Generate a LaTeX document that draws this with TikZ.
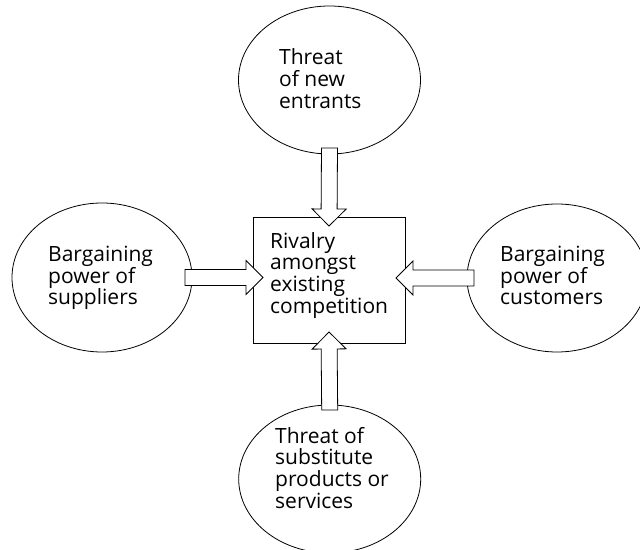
\documentclass[tikz,border=0pt]{standalone}
\usepackage{fontspec}
\setmainfont{Open Sans}
\usetikzlibrary{shapes.geometric,calc}

% hollow block arrow from #1 (shaft end) to #2 (tip)
\newcommand\blockarrow[2]{%
  \draw[blockarrow]
    ($(#1)!8pt!90:(#2)$) --
    ($($(#2)!17pt!(#1)$)!8pt!90:(#2)$) --
    ($($(#2)!17pt!(#1)$)!17pt!90:(#2)$) --
    (#2) --
    ($($(#2)!17pt!(#1)$)!17pt!-90:(#2)$) --
    ($($(#2)!17pt!(#1)$)!8pt!-90:(#2)$) --
    ($(#1)!8pt!-90:(#2)$) -- cycle;}

\tikzset{
  force/.style={ellipse, draw, line width=0.8pt, inner sep=0pt, outer sep=0pt,
    minimum width=182pt, minimum height=148pt},
  centrebox/.style={rectangle, draw, line width=0.8pt, inner sep=0pt, outer sep=0pt,
    minimum width=152pt, minimum height=126pt},
  label/.style={anchor=base west, align=left, inner sep=0pt,
    font=\fontsize{21pt}{21.7pt}\selectfont},
  blockarrow/.style={draw, fill=white, line width=0.8pt, line join=miter},
}

\begin{document}
\begin{tikzpicture}[x=1pt, y=1pt]
  \useasboundingbox (0,0) rectangle (640,549);
  \fill[white] (0,0) rectangle (640,549);

  % the five forces
  \node[force] (entrants) at (329.5,469) {};
  \node[force, minimum width=180pt, minimum height=149pt] (suppliers) at (102,271.5) {};
  \node[force, minimum width=180pt] (customers) at (557,271) {};
  \node[force] (substitutes) at (329.7,70) {};
  \node[centrebox] (rivalry) at (329,269) {};

  % texts (anchored at the baseline of the last line)
  \node[label] (tEntrants) at (279,440.7) {Threat\\of new\\entrants};
  \node[label] (tSuppliers) at (48,244) {Bargaining\\power of\\suppliers};
  \node[label] (tCustomers) at (500,244) {Bargaining\\power of\\customers};
  \node[label] (tSubstitutes) at (275,40.7) {Threat of\\substitute\\products or\\services};
  \node[label] (tRivalry) at (270,235.7) {Rivalry\\amongst\\existing\\competition};

  % arrow ends
  \coordinate (aTop) at ([yshift=6pt]entrants.south);
  \coordinate (bTop) at ([yshift=-9pt]rivalry.north);
  \coordinate (aLeft) at ([xshift=-7pt]suppliers.east);
  \coordinate (bLeft) at ([xshift=10pt]rivalry.west |- aLeft);
  \coordinate (aRight) at ([xshift=7pt]customers.west);
  \coordinate (bRight) at ([xshift=-9pt]rivalry.east |- aRight);
  \coordinate (aBottom) at ([yshift=-5pt]substitutes.north);
  \coordinate (bBottom) at ([yshift=11pt]rivalry.south);

  \blockarrow{aTop}{bTop}
  \blockarrow{aLeft}{bLeft}
  \blockarrow{aRight}{bRight}
  \blockarrow{aBottom}{bBottom}
\end{tikzpicture}
\end{document}
